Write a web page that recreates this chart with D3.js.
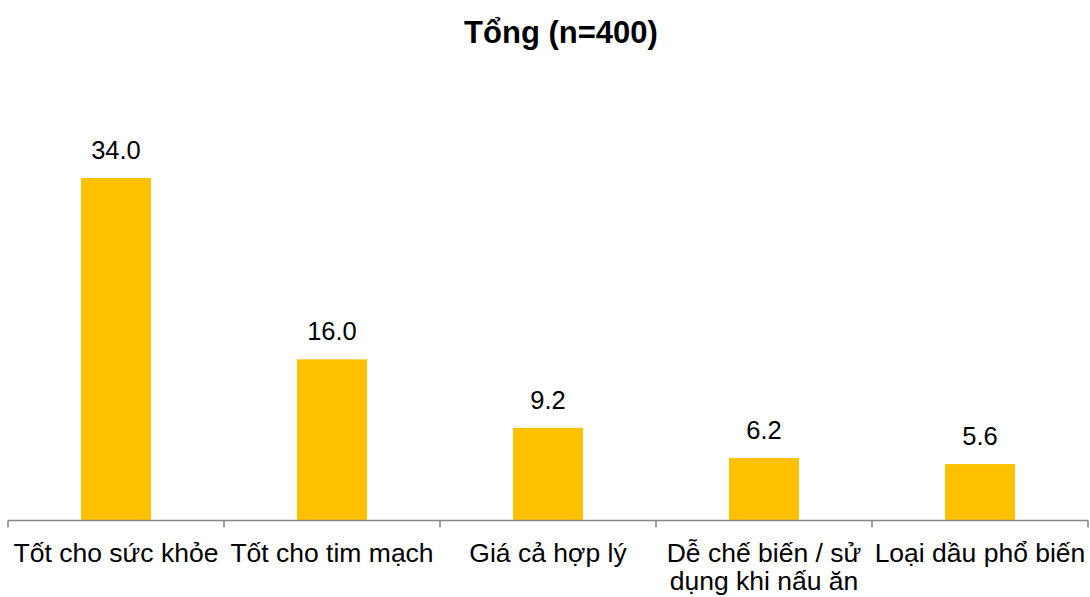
<!DOCTYPE html>
<html><head><meta charset="utf-8">
<script src="https://cdn.jsdelivr.net/npm/d3@7"></script>
<style>body{margin:0;background:#fff}svg{display:block}</style>
</head><body>
<svg id="c" width="1090" height="597"></svg>
<script>
const categories = [["Tốt cho sức khỏe"],["Tốt cho tim mạch"],["Giá cả hợp lý"],["Dễ chế biến / sử","dụng khi nấu ăn"],["Loại dầu phổ biến"]];
const values = [34.0, 16.0, 9.2, 6.2, 5.6];
const title = "Tổng (n=400)";

const svg = d3.select("#c");
const font = "'Liberation Sans', Arial, sans-serif";
const x0 = 8, x1 = 1088, yBase = 520.5;
const x = d3.scaleBand().domain(d3.range(values.length)).range([x0, x1]).paddingInner(0).paddingOuter(0);
const y = d3.scaleLinear().domain([0, 34]).range([yBase, 178]);
const bw = 70;

svg.append("text").attr("x", 561).attr("y", 43).attr("text-anchor","middle")
  .attr("font-family", font).attr("font-weight","bold").attr("font-size", 31).text(title);

svg.selectAll("rect.bar").data(values).join("rect").attr("class","bar")
  .attr("x", (d,i)=>x(i)+x.bandwidth()/2-bw/2).attr("width", bw)
  .attr("y", d=>y(d)).attr("height", d=>yBase-y(d)).attr("fill","#FFC000");

svg.selectAll("text.val").data(values).join("text").attr("class","val")
  .attr("x", (d,i)=>x(i)+x.bandwidth()/2).attr("y", d=>y(d)-19)
  .attr("text-anchor","middle").attr("font-family", font).attr("font-size", 25.5)
  .text(d=>d.toFixed(1));

// axis
svg.append("line").attr("x1", x0).attr("x2", x1).attr("y1", yBase).attr("y2", yBase)
  .attr("stroke","#868686").attr("stroke-width",1.5);
const ticks = d3.range(values.length+1).map(i => i < values.length ? x(i) : x1);
svg.selectAll("line.tk").data(ticks).join("line").attr("class","tk")
  .attr("x1", d=>d).attr("x2", d=>d).attr("y1", yBase).attr("y2", yBase+7)
  .attr("stroke","#868686").attr("stroke-width",1.5);

const lab = svg.selectAll("text.lab").data(categories).join("text").attr("class","lab")
  .attr("text-anchor","middle").attr("font-family", font).attr("font-size", 26.5);
lab.each(function(d,i){
  const t = d3.select(this);
  d.forEach((line,j)=>{
    t.append("tspan").attr("x", x(i)+x.bandwidth()/2).attr("y", 562+j*28).text(line);
  });
});
</script>
</body></html>
